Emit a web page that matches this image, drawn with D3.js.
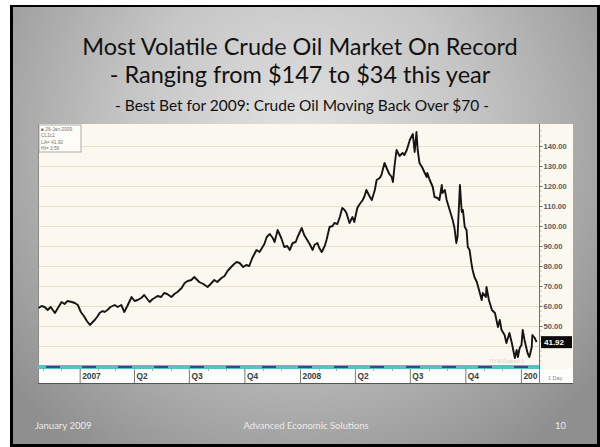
<!DOCTYPE html>
<html>
<head>
<meta charset="utf-8">
<script src="https://cdn.jsdelivr.net/npm/d3@7"></script>
<style>
  html, body { margin: 0; padding: 0; background: #ffffff; }
  svg { display: block; }
</style>
</head>
<body>
<svg id="slide" width="600" height="447"></svg>
<script>
// Front-month crude oil futures, daily closes (USD / bbl)
const priceDates = [
  "2006-10-25","2006-10-30","2006-11-04","2006-11-09","2006-11-14","2006-11-21","2006-11-26",
  "2006-12-02","2006-12-07","2006-12-12","2006-12-19","2006-12-24","2006-12-29",
  "2007-01-03","2007-01-08","2007-01-13","2007-01-18","2007-01-21","2007-01-26","2007-01-31",
  "2007-02-03","2007-02-08","2007-02-11","2007-02-16","2007-02-21","2007-02-28",
  "2007-03-05","2007-03-11","2007-03-16","2007-03-21","2007-03-28",
  "2007-04-02","2007-04-07","2007-04-13","2007-04-18","2007-04-23","2007-04-27",
  "2007-05-02","2007-05-05","2007-05-10","2007-05-16","2007-05-21","2007-05-26",
  "2007-06-02","2007-06-07","2007-06-12","2007-06-19","2007-06-24","2007-06-29",
  "2007-07-05","2007-07-10","2007-07-18","2007-07-25",
  "2007-08-01","2007-08-06","2007-08-12","2007-08-17","2007-08-24","2007-08-29",
  "2007-09-03","2007-09-09","2007-09-14","2007-09-18","2007-09-23","2007-09-29",
  "2007-10-04","2007-10-09","2007-10-14","2007-10-21","2007-10-26","2007-10-29",
  "2007-11-03","2007-11-07","2007-11-12","2007-11-17","2007-11-20","2007-11-25",
  "2007-12-01","2007-12-06","2007-12-11","2007-12-15","2007-12-20","2007-12-25","2007-12-28",
  "2008-01-04","2008-01-08","2008-01-13","2008-01-17","2008-01-22","2008-01-25","2008-01-30",
  "2008-02-02","2008-02-06","2008-02-11","2008-02-14","2008-02-19","2008-02-24","2008-02-27",
  "2008-03-03","2008-03-07","2008-03-11","2008-03-15","2008-03-18","2008-03-23","2008-03-28","2008-03-31",
  "2008-04-05","2008-04-09","2008-04-14","2008-04-17","2008-04-20","2008-04-25","2008-04-29",
  "2008-05-04","2008-05-07","2008-05-12","2008-05-15","2008-05-20","2008-05-25","2008-05-28",
  "2008-06-01","2008-06-03","2008-06-06","2008-06-09","2008-06-14","2008-06-19","2008-06-22","2008-06-26",
  "2008-07-01","2008-07-06","2008-07-09","2008-07-12","2008-07-14","2008-07-17","2008-07-22","2008-07-25","2008-07-29","2008-07-30",
  "2008-08-03","2008-08-08","2008-08-11","2008-08-16","2008-08-19","2008-08-23","2008-08-24","2008-08-28","2008-08-31",
  "2008-09-05","2008-09-10","2008-09-13","2008-09-16","2008-09-18","2008-09-22","2008-09-25","2008-09-27","2008-09-30",
  "2008-10-03","2008-10-05","2008-10-08","2008-10-11","2008-10-13","2008-10-16","2008-10-20","2008-10-25","2008-10-28","2008-10-30",
  "2008-11-04","2008-11-05","2008-11-09","2008-11-14","2008-11-19","2008-11-24","2008-11-27","2008-11-30",
  "2008-12-05","2008-12-08","2008-12-13","2008-12-17","2008-12-22","2008-12-25","2008-12-27","2008-12-30",
  "2009-01-02","2009-01-04","2009-01-07","2009-01-12","2009-01-15","2009-01-19","2009-01-20","2009-01-24","2009-01-27"
];
const priceValues = [
  59, 60, 59.5, 58, 59.5, 56.5, 59,
  62, 61, 62.5, 62, 61.5, 60.5,
  57, 55, 52.5, 50.5, 51.5, 53, 55,
  56.5, 57.5, 57, 58, 59.5, 60.5,
  59.5, 60.5, 57, 60, 64.5,
  62.5, 63, 64, 65.5, 63.5, 62,
  63.5, 64, 65, 64.5, 66.5, 66,
  64.5, 66, 67, 69, 71.5, 72.5,
  73, 74.5, 72, 71,
  69.5, 71, 73, 72, 74, 75,
  77.5, 79.5, 81, 82, 81.5, 79.5,
  80.5, 80, 84, 88, 87, 88.5,
  91, 94.5, 96, 94, 92, 98,
  94, 89.5, 90, 88, 91.5, 92, 94.5,
  99, 95.5, 93, 91, 88, 90.5, 91.5,
  89, 87, 90, 93, 99.5, 100, 101.5,
  101, 104.5, 109, 108, 106.5, 101.5, 104.5, 102,
  109, 111, 113, 115, 118, 115, 113,
  118, 123, 124, 125.5, 131.5, 128, 126,
  124.5, 122, 131, 138, 135, 136.5, 135.5, 138,
  143, 146, 137, 147, 138, 131.5, 129, 127, 124.5, 126.5,
  123, 119.5, 114.5, 114, 113, 120.5, 116.5, 118, 113,
  108, 103, 99, 91.5, 94.5, 120.5, 107, 108, 99.5,
  98, 89.5, 88, 81.5, 78, 74.5, 72, 66.5, 63, 66.5,
  64.5, 69.5, 63, 58, 56.5, 49.5, 53, 48,
  45.5, 41.5, 46.5, 41.5, 34, 38, 34.5, 39,
  40.5, 48, 43, 36.5, 34.5, 39.5, 45.5, 44, 41.92
];
const lastValue = 41.92;

// Right-hand price axis: labelled levels and grid levels
const yTickValues = [140, 130, 120, 110, 100, 90, 80, 70, 60, 50];
const gridValues = [140, 130, 120, 110, 100, 90, 80, 70, 60, 50, 40];

// Calendar axis: quarter boundaries and their labels
const xTickDates = ["2007-01-01","2007-04-01","2007-07-01","2007-10-01","2008-01-01",
                    "2008-04-01","2008-07-01","2008-10-01","2009-01-01"];
const xTickLabels = ["2007","Q2","Q3","Q4","2008","Q2","Q3","Q4","200"];

const titleLines = [
  "Most Volatile Crude Oil Market On Record",
  "- Ranging from $147 to $34 this year"
];
const subtitle = "- Best Bet for 2009: Crude Oil Moving Back Over $70 -";
const footerLeft = "January 2009";
const footerCenter = "Advanced Economic Solutions";
const footerRight = "10";
const infoBoxLines = ["\u25A0 26-Jan-2009", "CL1c1", "LA= 41.92", "HI= 3.56"];

const parse = d3.timeParse("%Y-%m-%d");
const series = priceDates.map((d, i) => ({ date: parse(d), value: priceValues[i] }));

const svg = d3.select("#slide");
const defs = svg.append("defs");

// ---- slide background ----
const grad = defs.append("radialGradient")
  .attr("id", "slideBg")
  .attr("gradientUnits", "userSpaceOnUse")
  .attr("cx", 300).attr("cy", 140).attr("r", 380);
grad.append("stop").attr("offset", "0%").attr("stop-color", "#e2e2e2");
grad.append("stop").attr("offset", "45%").attr("stop-color", "#c6c6c6");
grad.append("stop").attr("offset", "100%").attr("stop-color", "#8f8f8f");

svg.append("rect").attr("x", 10).attr("y", 5).attr("width", 590).attr("height", 442).attr("fill", "#000");
svg.append("rect").attr("x", 13).attr("y", 7).attr("width", 584).attr("height", 437).attr("fill", "url(#slideBg)");

// ---- titles ----
const titleFont = "Lato, 'Open Sans', sans-serif";
svg.selectAll("text.title").data(titleLines).join("text")
  .attr("class", "title")
  .attr("x", 300)
  .attr("y", (d, i) => 55 + i * 28)
  .attr("text-anchor", "middle")
  .attr("font-family", titleFont)
  .attr("font-size", 23.5)
  .attr("fill", "#111")
  .text(d => d);

svg.append("text")
  .attr("x", 302).attr("y", 111)
  .attr("text-anchor", "middle")
  .attr("font-family", titleFont)
  .attr("font-size", 15.5)
  .attr("fill", "#111")
  .text(subtitle);

// ---- footer ----
const footerG = svg.append("g")
  .attr("font-family", titleFont)
  .attr("font-size", 9.5)
  .attr("fill", "#ebebeb");
footerG.append("text").attr("x", 35).attr("y", 429).text(footerLeft);
footerG.append("text").attr("x", 306).attr("y", 429).attr("text-anchor", "middle").text(footerCenter);
footerG.append("text").attr("x", 566).attr("y", 429).attr("text-anchor", "end").text(footerRight);

// ---- chart frame ----
const frame = { left: 38, top: 124, right: 573, bottom: 384 };
const plot = { left: 38, top: 124, right: 539, bottom: 365 };
const bandH = 4;

const chart = svg.append("g");
chart.append("rect")
  .attr("x", frame.left).attr("y", frame.top)
  .attr("width", frame.right - frame.left).attr("height", frame.bottom - frame.top)
  .attr("fill", "#fbf9ef");
// label strip below the band
chart.append("rect")
  .attr("x", frame.left).attr("y", plot.bottom + bandH)
  .attr("width", frame.right - frame.left).attr("height", frame.bottom - plot.bottom - bandH)
  .attr("fill", "#fdfdfb");

const x = d3.scaleTime()
  .domain([parse("2006-10-24"), parse("2009-01-31")])
  .range([plot.left, plot.right]);
const y = d3.scaleLinear()
  .domain([30.5, 151])
  .range([plot.bottom, plot.top]);

// horizontal grid
chart.append("g")
  .selectAll("line").data(gridValues).join("line")
  .attr("x1", plot.left).attr("x2", plot.right)
  .attr("y1", d => Math.round(y(d)) + 0.5).attr("y2", d => Math.round(y(d)) + 0.5)
  .attr("stroke", "#e6dfca").attr("stroke-width", 1.2);

// left border of the plot
chart.append("line")
  .attr("x1", plot.left + 0.5).attr("x2", plot.left + 0.5)
  .attr("y1", plot.top).attr("y2", frame.bottom)
  .attr("stroke", "#8a8a8a");

// price line
const line = d3.line()
  .x(d => x(d.date))
  .y(d => y(d.value));
chart.append("path")
  .datum(series)
  .attr("d", line)
  .attr("fill", "none")
  .attr("stroke", "#151515")
  .attr("stroke-width", 1.9)
  .attr("stroke-linejoin", "round");

// info box (top-left)
const info = chart.append("g").attr("transform", `translate(${frame.left + 1},${frame.top + 1})`);
info.append("rect").attr("width", 42).attr("height", 27)
  .attr("fill", "#fdfcf7").attr("stroke", "#9a9a9a").attr("stroke-width", 0.8);
info.selectAll("text").data(infoBoxLines).join("text")
  .attr("x", 2).attr("y", (d, i) => 6 + i * 6.3)
  .attr("font-family", "Arial, 'Liberation Sans', sans-serif")
  .attr("font-size", 4.8)
  .attr("fill", "#777")
  .text(d => d);

// session band at the foot of the plot
chart.append("rect")
  .attr("x", plot.left).attr("y", plot.bottom)
  .attr("width", plot.right - plot.left).attr("height", bandH)
  .attr("fill", "#58c0bf");
chart.append("line")
  .attr("x1", plot.left + 8).attr("x2", plot.right)
  .attr("y1", plot.bottom + 2).attr("y2", plot.bottom + 2)
  .attr("stroke", "#2d4f8c").attr("stroke-width", 2)
  .attr("stroke-dasharray", "14 22");

// faint source note above the band
chart.append("text")
  .attr("x", 490).attr("y", plot.bottom - 2)
  .attr("font-family", "Arial, 'Liberation Sans', sans-serif")
  .attr("font-size", 5).attr("fill", "#d2d2d2")
  .text("NYM  Expired 3");

// right price axis
const yAxis = d3.axisRight(y)
  .tickValues(yTickValues)
  .tickSize(3)
  .tickFormat(d3.format(".2f"));
const yAxisG = chart.append("g")
  .attr("transform", `translate(${plot.right + 0.5},0)`)
  .call(yAxis);
yAxisG.select(".domain").attr("stroke", "#6f6f6f").attr("d", `M0,${plot.top}V${plot.bottom + bandH}`);
yAxisG.selectAll(".tick line").attr("stroke", "#6f6f6f");
yAxisG.selectAll(".tick text")
  .attr("x", 4)
  .attr("font-family", "Arial, 'Liberation Sans', sans-serif")
  .attr("font-size", 7.6)
  .attr("font-weight", "bold")
  .attr("fill", "#5a5a5a");
// minor ticks along the price axis
yAxisG.append("g").selectAll("line")
  .data(d3.range(32.5, 150, 2.5).filter(v => v % 10 !== 0))
  .join("line")
  .attr("x1", 0).attr("x2", 2)
  .attr("y1", d => y(d)).attr("y2", d => y(d))
  .attr("stroke", "#8a8a8a").attr("stroke-width", 0.6);

// last value marker
const lastG = chart.append("g").attr("transform", `translate(${plot.right + 2},${y(lastValue)})`);
lastG.append("rect").attr("x", 0).attr("y", -6).attr("width", 31).attr("height", 12).attr("fill", "#0a0a0a");
lastG.append("text")
  .attr("x", 3).attr("y", 3.2)
  .attr("font-family", "Arial, 'Liberation Sans', sans-serif")
  .attr("font-size", 8).attr("font-weight", "bold")
  .attr("fill", "#ffffff")
  .text(d3.format(".2f")(lastValue));

// calendar axis
const xAxisY = plot.bottom + bandH;
const xAxis = d3.axisBottom(x)
  .tickValues(xTickDates.map(parse))
  .tickSize(frame.bottom - xAxisY)
  .tickFormat((d, i) => xTickLabels[i]);
const xAxisG = chart.append("g")
  .attr("transform", `translate(0,${xAxisY})`)
  .call(xAxis);
xAxisG.select(".domain").remove();
xAxisG.selectAll(".tick line").attr("stroke", "#7a7a7a");
xAxisG.selectAll(".tick text")
  .attr("text-anchor", "start")
  .attr("x", 2).attr("y", 4.5).attr("dy", "0.71em")
  .attr("font-family", "Arial, 'Liberation Sans', sans-serif")
  .attr("font-size", 8.4)
  .attr("font-weight", "bold")
  .attr("fill", "#3c3c3c");
// monthly minor ticks
const monthTicks = d3.timeMonth.range(x.domain()[0], x.domain()[1]);
chart.append("g").selectAll("line").data(monthTicks).join("line")
  .attr("x1", d => Math.round(x(d)) + 0.5).attr("x2", d => Math.round(x(d)) + 0.5)
  .attr("y1", xAxisY).attr("y2", xAxisY + 2)
  .attr("stroke", "#9a9a9a").attr("stroke-width", 0.8);

// bottom rule and frame edge
chart.append("line")
  .attr("x1", frame.left).attr("x2", frame.right)
  .attr("y1", frame.bottom - 0.5).attr("y2", frame.bottom - 0.5)
  .attr("stroke", "#555");
chart.append("line")
  .attr("x1", plot.right + 0.5).attr("x2", plot.right + 0.5)
  .attr("y1", xAxisY).attr("y2", frame.bottom)
  .attr("stroke", "#7a7a7a");
chart.append("text")
  .attr("x", 548).attr("y", 380)
  .attr("font-family", "Arial, 'Liberation Sans', sans-serif")
  .attr("font-size", 5.5).attr("fill", "#888")
  .text("1 Day");
</script>
</body>
</html>
